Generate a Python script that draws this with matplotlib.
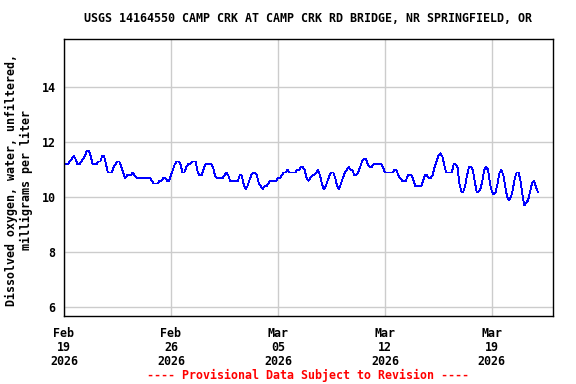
import matplotlib
matplotlib.use("Agg")
import matplotlib.pyplot as plt
import numpy as np
import pandas as pd

# dissolved oxygen, mg/L, read every 3 hours starting Feb 19 2026 00:00
start = "2026-02-19 00:00"
step_hours = 3
do_mgl = [
    11.2, 11.2, 11.2, 11.3, 11.4, 11.5, 11.4, 11.2, 11.2, 11.3,
    11.4, 11.5, 11.7, 11.7, 11.5, 11.2, 11.2, 11.2, 11.3, 11.3,
    11.5, 11.5, 11.2, 10.9, 10.9, 10.9, 11.1, 11.2, 11.3, 11.3,
    11.1, 10.9, 10.7, 10.8, 10.8, 10.8, 10.9, 10.8, 10.7, 10.7,
    10.7, 10.7, 10.7, 10.7, 10.7, 10.7, 10.6, 10.5, 10.5, 10.5,
    10.6, 10.6, 10.7, 10.7, 10.6, 10.6, 10.8, 11.0, 11.2, 11.3,
    11.3, 11.2, 10.9, 10.9, 11.1, 11.2, 11.2, 11.3, 11.3, 11.3,
    10.9, 10.8, 10.8, 11.0, 11.2, 11.2, 11.2, 11.2, 11.1, 10.8,
    10.7, 10.7, 10.7, 10.7, 10.8, 10.9, 10.8, 10.6, 10.6, 10.6,
    10.6, 10.6, 10.8, 10.8, 10.5, 10.3, 10.4, 10.6, 10.8, 10.9,
    10.9, 10.8, 10.5, 10.4, 10.3, 10.4, 10.4, 10.5, 10.6, 10.6,
    10.6, 10.6, 10.7, 10.7, 10.8, 10.9, 10.9, 11.0, 10.9, 10.9,
    10.9, 10.9, 11.0, 11.0, 11.1, 11.1, 11.0, 10.7, 10.6, 10.7,
    10.8, 10.8, 10.9, 11.0, 10.8, 10.5, 10.3, 10.4, 10.6, 10.8,
    10.9, 10.9, 10.7, 10.4, 10.3, 10.5, 10.7, 10.9, 11.0, 11.1,
    11.0, 11.0, 10.8, 10.8, 10.9, 11.1, 11.3, 11.4, 11.4, 11.2,
    11.1, 11.1, 11.2, 11.2, 11.2, 11.2, 11.2, 11.1, 10.9, 10.9,
    10.9, 10.9, 10.9, 11.0, 11.0, 10.8, 10.7, 10.6, 10.6, 10.6,
    10.8, 10.8, 10.8, 10.6, 10.4, 10.4, 10.4, 10.4, 10.6, 10.8,
    10.8, 10.7, 10.7, 10.8, 11.1, 11.3, 11.5, 11.6, 11.5, 11.2,
    10.9, 10.9, 10.9, 10.9, 11.2, 11.2, 11.1, 10.5, 10.2, 10.2,
    10.4, 10.8, 11.1, 11.1, 11.0, 10.6, 10.2, 10.2, 10.3, 10.6,
    11.0, 11.1, 11.0, 10.5, 10.2, 10.1, 10.2, 10.5, 10.9, 11.0,
    10.8, 10.4, 10.0, 9.9, 10.0, 10.3, 10.7, 10.9, 10.9, 10.6,
    10.1, 9.7, 9.8, 9.9, 10.2, 10.5, 10.6, 10.4, 10.2,
]
times = pd.date_range(start, periods=len(do_mgl), freq=f"{step_hours}h")

title = "USGS 14164550 CAMP CRK AT CAMP CRK RD BRIDGE, NR SPRINGFIELD, OR"
ylabel = "Dissolved oxygen, water, unfiltered,\nmilligrams per liter"
note = "---- Provisional Data Subject to Revision ----"
tick_days = ["2026-02-19", "2026-02-26", "2026-03-05", "2026-03-12", "2026-03-19"]
yticks = [6, 8, 10, 12, 14]

plt.rcParams["font.family"] = "DejaVu Sans Mono"
plt.rcParams["font.weight"] = "bold"
fs = 8.4

fig = plt.figure(figsize=(5.76, 3.84), dpi=100)
ax = fig.add_axes([64 / 576, 1 - 316 / 384, (553 - 64) / 576, (316 - 39) / 384])

ax.plot(times, do_mgl, color="#0000ff", lw=0.6, antialiased=False)

ax.set_xlim(pd.Timestamp("2026-02-19"), pd.Timestamp("2026-03-23"))
ax.set_ylim(5.68, 15.76)
ax.set_yticks(yticks)
ax.set_yticklabels([str(v) for v in yticks], fontsize=fs, fontweight="bold")
xt = [pd.Timestamp(d) for d in tick_days]
ax.set_xticks(xt)
ax.set_xticklabels([d.strftime("%b\n%d\n%Y") for d in xt], fontsize=fs,
                   fontweight="bold", linespacing=1.1)
ax.tick_params(axis="both", length=0)
ax.tick_params(axis="y", pad=6)
ax.tick_params(axis="x", pad=8)
ax.grid(True, color="#cccccc", lw=1.0)
ax.set_axisbelow(True)
for s in ax.spines.values():
    s.set_color("black")
    s.set_linewidth(1.0)

fig.text(308.5 / 576, 1 - 19 / 384, title, ha="center", va="center",
         fontsize=fs, fontweight="bold")
fig.text(19 / 576, 1 - 180 / 384, ylabel, ha="center", va="center",
         rotation=90, fontsize=fs, fontweight="bold", linespacing=1.2)
fig.text(308 / 576, 1 - 375 / 384, note, ha="center", va="center",
         fontsize=fs, fontweight="bold", color="red")

fig.savefig("out.png", dpi=100)
